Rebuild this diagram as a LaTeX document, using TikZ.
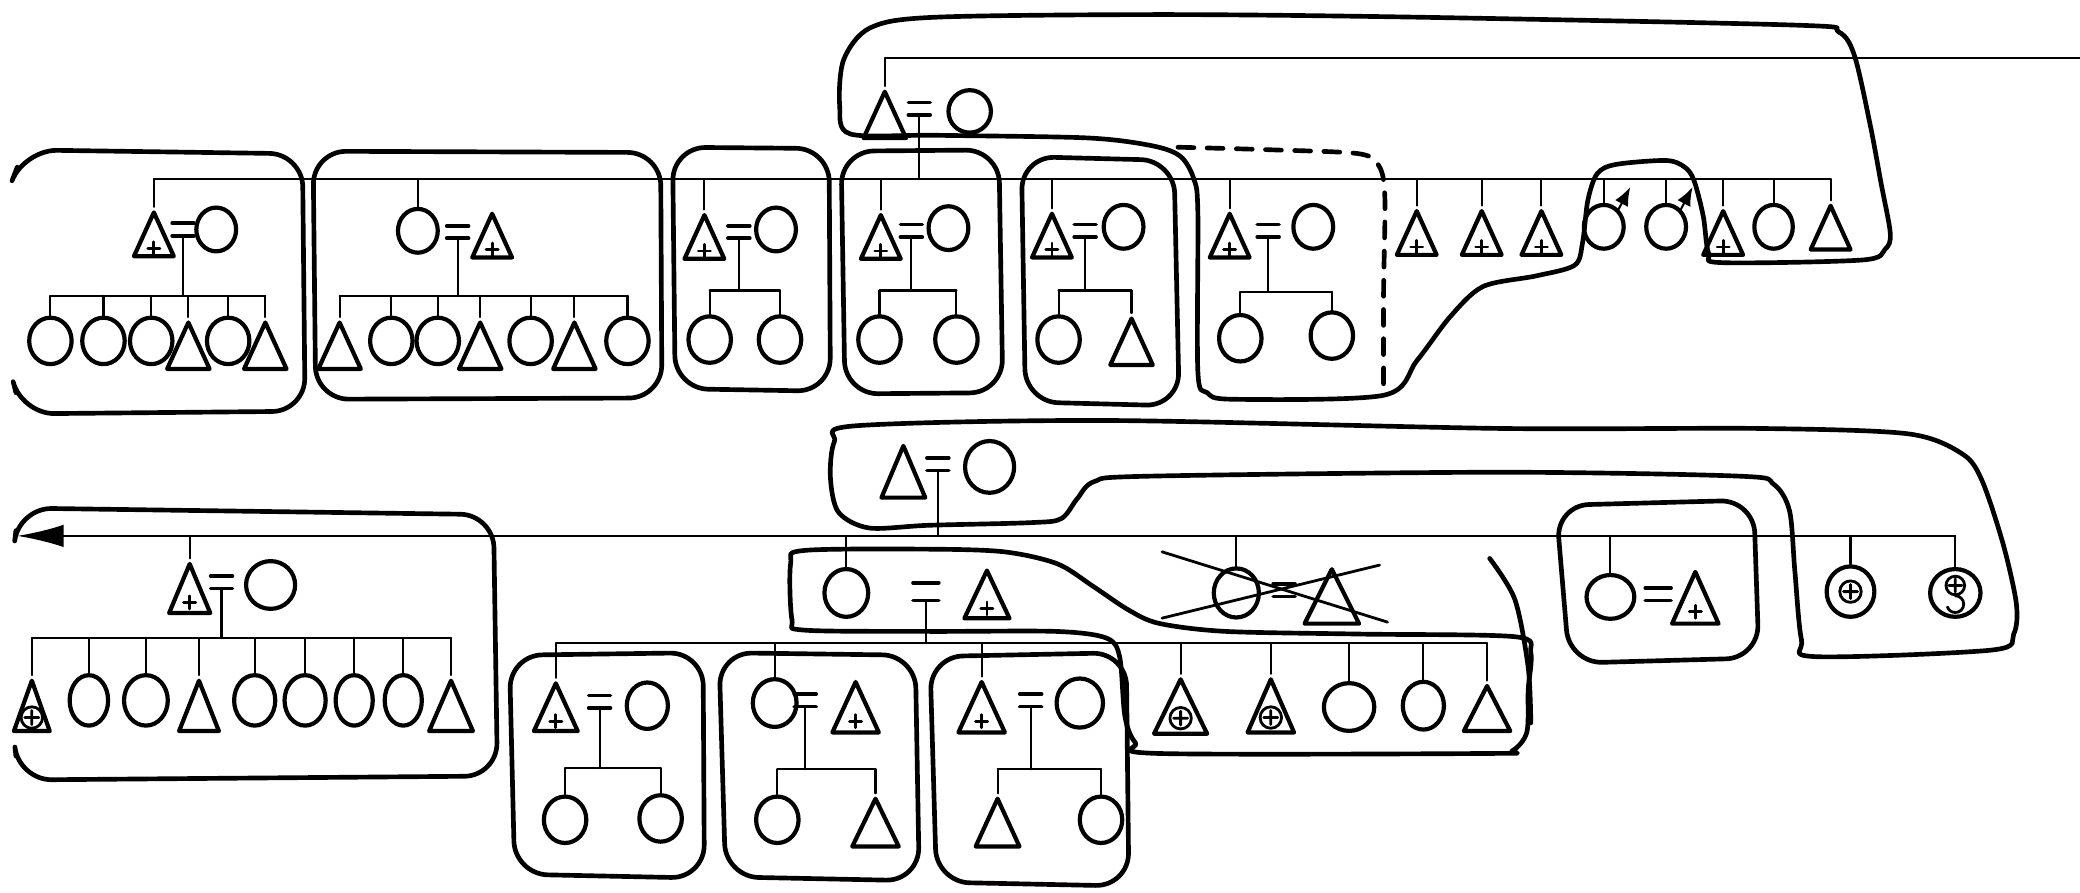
\documentclass[tikz,border=0pt]{standalone}
\usepackage{tikz}
\usetikzlibrary{shapes.geometric,arrows.meta}

\begin{document}
\begin{tikzpicture}[x=0.1mm, y=-0.1mm, line join=round, line cap=round,
man/.style={isosceles triangle, isosceles triangle stretches, shape border rotate=90, draw,
  line width=0.9pt, inner sep=0pt, minimum width=3mm, minimum height=3.3mm, anchor=apex},
woman/.style={ellipse, draw, line width=0.9pt, inner sep=0pt, minimum width=3mm, minimum height=3.3mm},
kid/.style={minimum width=3.2mm, minimum height=3.5mm},
pl/.style={path picture={\draw[line width=0.6pt] ([yshift=-3pt]path picture bounding box.center)
  +(-1.3pt,0) -- +(1.3pt,0) +(0,-1.4pt) -- +(0,1.4pt);}},
opl/.style={path picture={\draw[line width=0.6pt] ([yshift=#1]path picture bounding box.center)
  circle (2.3pt) +(-1.5pt,0) -- +(1.5pt,0) +(0,-1.5pt) -- +(0,1.5pt);}},
opl/.default=-2.5pt,
oplb/.style={path picture={\draw[line width=0.6pt] ([yshift=1.6pt]path picture bounding box.center)
  circle (2pt) +(-1.4pt,0) -- +(1.4pt,0) +(0,-1.4pt) -- +(0,1.4pt);
  \draw[line width=0.6pt] ([yshift=-0.6pt]path picture bounding box.center)
  arc[start angle=90, end angle=-160, radius=1.8pt];}},
wed/.style={inner sep=0pt, minimum width=1.5mm, minimum height=0.8mm,
  append after command={(\tikzlastnode.north west) edge[line width=0.8pt] (\tikzlastnode.north east)
  (\tikzlastnode.south west) edge[line width=0.8pt] (\tikzlastnode.south east)}},
kin/.style={line width=0.45pt},
fence/.style={line width=1pt},
box/.style={fence, rounded corners=2.5mm},
]
\useasboundingbox (0,0) rectangle (1568,673);

% top couple
\node[man, minimum width=3.2mm, minimum height=3.5mm] (th) at (667,65) {};
\node[wed] (te) at (693,82) {};
\node[woman, minimum width=3.2mm, minimum height=3.2mm] (tw) at (731,84) {};
\coordinate (topR) at (1568,44);
\draw[kin] (th.north) |- (topR);

% upper generation
\node[man,pl] (u1h) at (116,156) {};
\node[wed] (u1e) at (138,173) {};
\node[woman] (u1w) at (163,173) {};
\coordinate (u1k) at (0,223);
\node[woman,kid] (u1c1) at (38,257) {};
\node[woman,kid] (u1c2) at (78,257) {};
\node[woman,kid] (u1c3) at (114,257) {};
\node[man,kid] (u1c4) at (142,239) {};
\node[woman,kid] (u1c5) at (172,257) {};
\node[man,kid] (u1c6) at (200,239) {};

\node[woman] (u2w) at (315,174) {};
\node[wed] (u2e) at (345,175) {};
\node[man,pl] (u2h) at (371,157) {};
\coordinate (u2k) at (0,223);
\node[man,kid] (u2c1) at (256,239) {};
\node[woman,kid] (u2c2) at (295,257) {};
\node[woman,kid] (u2c3) at (330,257) {};
\node[man,kid] (u2c4) at (362,239) {};
\node[woman,kid] (u2c5) at (400,257) {};
\node[man,kid] (u2c6) at (433,239) {};
\node[woman,kid] (u2c7) at (473,257) {};

\node[man,pl] (u3h) at (531,158) {};
\node[wed] (u3e) at (557,175) {};
\node[woman] (u3w) at (585,173) {};
\coordinate (u3k) at (0,219);
\node[woman,kid] (u3c1) at (535,256) {};
\node[woman,kid] (u3c2) at (588,256) {};

\node[man,pl] (u4h) at (664,158) {};
\node[wed] (u4e) at (687,174) {};
\node[woman] (u4w) at (715,172) {};
\coordinate (u4k) at (0,219);
\node[woman,kid] (u4c1) at (663,256) {};
\node[woman,kid] (u4c2) at (721,256) {};

\node[man,pl] (u5h) at (793,157) {};
\node[wed] (u5e) at (818,174) {};
\node[woman] (u5w) at (847,171) {};
\coordinate (u5k) at (0,219);
\node[woman,kid] (u5c1) at (798,256) {};
\node[man,kid] (u5c2) at (853,236) {};

\node[man,pl] (u6h) at (927,157) {};
\node[wed] (u6e) at (956,174) {};
\node[woman] (u6w) at (990,171) {};
\coordinate (u6k) at (0,220);
\node[woman,kid] (u6c1) at (935,255) {};
\node[woman,kid] (u6c2) at (1004,253) {};

\node[man,pl] (s1) at (1068,155) {};
\node[man,pl] (s2) at (1117,155) {};
\node[man,pl] (s3) at (1162,155) {};
\node[woman] (s4) at (1209,171) {};
\node[woman] (s5) at (1256,171) {};
\node[man,pl] (s6) at (1299,155) {};
\node[woman, minimum width=2.9mm] (s7) at (1337,171) {};
\node[man] (s8) at (1380,151) {};
\coordinate (s4t) at (1229,141);
\coordinate (s5t) at (1276,141);
\draw[kin, -{Latex[length=1.4mm,width=1.1mm]}] (s4.50) -- (s4t);
\draw[kin, -{Latex[length=1.4mm,width=1.1mm]}] (s5.50) -- (s5t);

\coordinate (usib) at (0,135);
\draw[kin] (u1h.north |- usib) -- (s8.north |- usib);
\draw[kin] (te.south) -- (te.south |- usib);
\foreach \n in {u1h,u2w,u3h,u4h,u5h,u6h,s1,s2,s3,s4,s5,s6,s7,s8}
  \draw[kin] (\n.north) -- (\n.north |- usib);

% lower generation
\node[man, minimum width=3.3mm, minimum height=3.9mm] (lh) at (681,332) {};
\node[wed] (le) at (707,350) {};
\node[woman, minimum width=3.7mm, minimum height=3.9mm] (lw) at (746,352) {};

\node[man,pl, minimum width=3.1mm, minimum height=3.7mm] (l1h) at (143,421) {};
\node[wed] (l1e) at (167,439) {};
\node[woman, minimum width=3.7mm, minimum height=3.6mm] (l1w) at (204,441) {};
\coordinate (l1k) at (0,481);
\node[man,opl, minimum width=2.7mm, minimum height=3.8mm] (l1c1) at (24,509) {};
\node[woman, minimum width=2.9mm, minimum height=3.8mm] (l1c2) at (67,528) {};
\node[woman, minimum width=3.3mm, minimum height=3.8mm] (l1c3) at (110,528) {};
\node[man, minimum height=3.8mm] (l1c4) at (150,509) {};
\node[woman, minimum width=3.1mm, minimum height=3.8mm] (l1c5) at (192,528) {};
\node[woman, minimum width=3.1mm, minimum height=3.8mm] (l1c6) at (230,528) {};
\node[woman, minimum width=2.8mm, minimum height=3.8mm] (l1c7) at (267,528) {};
\node[woman, minimum width=2.8mm, minimum height=3.8mm] (l1c8) at (304,528) {};
\node[man, minimum width=3.3mm, minimum height=3.8mm] (l1c9) at (340,509) {};

\node[woman, minimum width=3.3mm, minimum height=3.6mm] (mw) at (638,447) {};
\node[wed, minimum width=1.8mm, minimum height=1.2mm] (me) at (698,446) {};
\node[man,pl, minimum width=3.4mm, minimum height=3.6mm] (mh) at (744,426) {};

\node[woman, minimum width=3.4mm, minimum height=3.7mm] (xw) at (932,447) {};
\node[wed] (xe) at (968,445) {};
\node[man, minimum width=4.1mm, minimum height=4.1mm] (xh) at (1004,425) {};
\draw[line width=0.6pt] (876,416) -- (1046,469);
\draw[line width=0.6pt] (876,466) -- (1040,426);

\node[woman, minimum width=3.6mm, minimum height=3.3mm] (r1w) at (1214,450) {};
\node[wed, minimum width=1.8mm] (r1e) at (1250,448) {};
\node[man,pl, minimum width=3.5mm, minimum height=3.9mm] (r1h) at (1278,427) {};

\node[woman, opl=0pt, minimum width=3.6mm, minimum height=3.8mm] (p1) at (1395,446) {};
\node[woman, oplb, minimum width=3.8mm, minimum height=3.6mm] (p2) at (1474,447) {};

\coordinate (lsib) at (13,404);
\draw[kin, {Latex[length=3.5mm,width=1.7mm]}-] (lsib) -- (p2.north |- lsib);
\draw[kin] (le.south) -- (le.south |- lsib);
\foreach \n in {l1h,mw,xw,r1w,p1,p2}
  \draw[kin] (\n.north) -- (\n.north |- lsib);

% third generation
\node[man,pl, minimum width=3.3mm, minimum height=3.6mm] (a2h) at (419,511) {};
\node[wed] (a2e) at (452,529) {};
\node[woman, minimum width=3.1mm, minimum height=3.5mm] (a2w) at (488,532) {};
\coordinate (a2k) at (0,579);
\node[woman,kid] (a2c1) at (426,618) {};
\node[woman,kid] (a2c2) at (498,617) {};

\node[woman, minimum width=3.3mm, minimum height=3.6mm] (b3w) at (584,530) {};
\node[wed] (b3e) at (607,528) {};
\node[man,pl, minimum width=3.5mm, minimum height=3.8mm] (b3h) at (645,510) {};
\coordinate (b3k) at (0,580);
\node[woman,kid] (b3c1) at (586,618) {};
\node[man, minimum width=3.5mm, minimum height=3.6mm] (b3c2) at (660,598) {};

\node[man,pl, minimum width=3.5mm, minimum height=3.8mm] (c4h) at (740,510) {};
\node[wed] (c4e) at (777,528) {};
\node[woman, minimum width=3.5mm, minimum height=3.7mm] (c4w) at (814,530) {};
\coordinate (c4k) at (0,580);
\node[man, minimum width=3.3mm, minimum height=3.6mm] (c4c1) at (752,598) {};
\node[woman,kid] (c4c2) at (830,618) {};

\node[man,opl, minimum width=4mm, minimum height=4.1mm] (d1) at (890,508) {};
\node[man,opl, minimum width=3.5mm, minimum height=4mm] (d2) at (958,508) {};
\node[woman, minimum width=3.8mm, minimum height=3.6mm] (d3) at (1017,533) {};
\node[woman, minimum width=3.1mm, minimum height=3.6mm] (d4) at (1073,532) {};
\node[man, minimum width=3.5mm, minimum height=3.4mm] (d5) at (1121,513) {};

\coordinate (tsib) at (0,485);
\draw[kin] (a2h.north |- tsib) -- (d5.north |- tsib);
\draw[kin] (me.south) -- (me.south |- tsib);
\foreach \n in {a2h,b3w,c4h,d1,d2,d3,d4,d5}
  \draw[kin] (\n.north) -- (\n.north |- tsib);

% children of the couples
\foreach \g/\m in {u1/6,u2/7,u3/2,u4/2,u5/2,u6/2,l1/9,a2/2,b3/2,c4/2} {
  \draw[kin] (\g e.south) -- (\g e.south |- \g k);
  \draw[kin] (\g c1.north |- \g k) -- (\g c\m.north |- \g k);
  \foreach \i in {1,...,\m}
    \draw[kin] (\g c\i.north) -- (\g c\i.north |- \g k);
}

% enclosures
\draw[box] (13,126) -- (18,113) -- (228,116) -- (230,310) -- (16,312) -- (12,296);
\draw[box] (236,114) -- (498,115) -- (499,300) -- (238,301) -- cycle;
\draw[box] (507,111) -- (625,112) -- (626,295) -- (509,293) -- cycle;
\draw[box] (634,114) -- (753,113) -- (756,296) -- (637,297) -- cycle;
\draw[box] (770,118) -- (885,121) -- (889,306) -- (773,303) -- cycle;
\draw[fence] plot[smooth cycle, tension=0.5] coordinates {
  (641,101) (706,102) (820,104) (869,110) (890,118) (900,135) (903,160) (903,280)
  (910,296) (930,301) (1043,298) (1068,272) (1093,239) (1118,216) (1158,208)
  (1187,200) (1193,183) (1197,151) (1204,131) (1218,124) (1256,121) (1270,126)
  (1277,136) (1284,163) (1288,191) (1298,198) (1404,196) (1421,188) (1425,176)
  (1418,138) (1410,95) (1398,42) (1386,24) (1355,19) (1070,13) (878,11) (705,13)
  (656,21) (636,45) (633,80)};
\draw[fence, dash pattern=on 1.2mm off 1mm] plot[smooth] coordinates {
  (888,111) (960,113) (1025,116) (1040,126) (1044,150) (1043,220) (1043,296)};

\draw[box] (12,400) -- (14,383) -- (372,388) -- (375,585) -- (14,588) -- (12,570);
\draw[box] (1173,381) -- (1322,377) -- (1326,496) -- (1183,500) -- cycle;
\draw[box] (384,494) -- (530,492) -- (531,662) -- (388,659) -- cycle;
\draw[box] (542,492) -- (690,494) -- (693,664) -- (547,661) -- cycle;
\draw[box] (701,495) -- (849,492) -- (851,668) -- (706,665) -- cycle;
\draw[fence] plot[smooth cycle, tension=0.5] coordinates {
  (645,321) (834,317) (1131,323) (1326,323) (1438,327) (1479,342) (1494,362)
  (1510,410) (1520,455) (1518,478) (1502,490) (1368,495) (1358,482) (1353,430)
  (1349,385) (1337,365) (1312,359) (1131,356) (865,359) (825,363) (812,376)
  (800,391) (777,394) (700,396) (655,398) (632,386) (626,360) (629,333)};
\draw[fence] plot[smooth cycle, tension=0.5] coordinates {
  (596,425) (606,415) (700,414) (757,416) (797,425) (824,442) (851,460) (874,470)
  (924,476) (1025,478) (1142,480) (1154,492) (1152,520) (1151,552) (1140,566)
  (1123,568) (873,568) (856,560) (848,540) (844,495) (834,481) (796,476)
  (700,476) (606,475) (597,467)};
\draw[fence] plot[smooth] coordinates {(1123,421) (1142,452) (1152,503) (1154,545)};
\end{tikzpicture}
\end{document}
